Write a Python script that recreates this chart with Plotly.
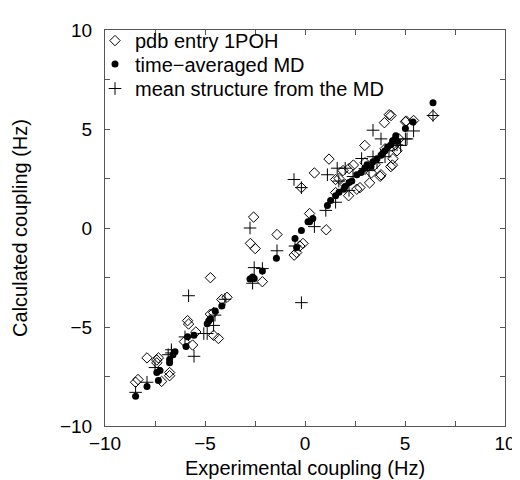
import plotly.graph_objects as go

# pdb entry 1POH (open diamonds)
pdb_x = [-8.47, -8.35, -7.9, -7.41, -7.33, -7.41, -6.77, -7.17, -6.77, -5.87, -5.82, -5.46, -5.62, -6.03,
         -4.57, -4.33, -4.73, -4.57, -4.16, -3.9, -4.73,
         -2.57, -2.73, -2.49, -1.4, -0.26, -0.1, -0.42, -0.54, -2.13, 0.23, 1.06, -0.18, 0.47, 1.2,
         1.53, 1.53, 2.01, 2.18, 2.59, 2.75, 3.23, 3.76, 3.8, 3.32, 2.42, 2.99, 3.97, 4.21, 4.3, 5.02,
         5.43, 5.07, 6.4, 4.29, 4.37, 4.6, 4.4, 3.5, 2.2, 3.0, 1.9, 1.7, 4.0, 4.5, 4.7]
pdb_y = [-7.79, -7.65, -6.56, -6.67, -6.56, -6.81, -7.3, -7.75, -7.46, -4.68, -4.85, -5.25, -5.91, -5.74,
         -5.42, -5.58, -4.35, -4.27, -3.61, -3.5, -2.51,
         0.55, -0.78, -1.04, -0.33, -0.91, -0.78, -1.24, -1.37, -2.71, 0.73, -0.09, 2.04, 2.78, 3.48,
         2.45, 1.79, 2.2, 1.63, 1.96, 2.04, 2.28, 2.61, 2.69, 2.78, 3.18, 4.17, 5.32, 5.72, 5.68, 5.37,
         5.43, 5.4, 5.68, 3.1, 3.18, 3.9, 3.5, 3.2, 3.0, 3.3, 2.9, 2.5, 4.0, 4.2, 4.5]

# time-averaged MD (filled circles)
md_x = [-8.47, -7.9, -7.33, -7.41, -7.25, -6.77, -6.77, -6.6, -6.5, -5.95, -5.87, -5.55, -4.89, -4.81,
        -4.73, -4.49, -4.16,
        -2.75, -2.62, -2.54, -2.13, -1.43, -0.5, -0.42, -0.18, 0.15, 0.39, 0.23,
        1.12, 1.28, 1.53, 1.94, 2.34, 2.59, 2.99, 3.4, 3.8, 4.13, 4.38, 4.54, 5.02, 5.4, 6.4,
        2.0, 2.8, 3.1, 3.6, 4.0, 4.3, 4.6, 2.2, 3.3, 3.9, 4.5, 1.7]
md_y = [-8.5, -8.0, -7.7, -7.3, -7.2, -6.81, -6.64, -6.4, -6.25, -5.99, -5.49, -5.42, -4.84, -4.68,
        -4.59, -4.19, -3.94,
        -2.58, -2.47, -2.55, -2.17, -1.53, -0.53, -0.99, -0.12, 0.32, 0.48, 0.32,
        1.14, 1.39, 1.63, 1.96, 2.37, 2.69, 3.02, 3.35, 3.68, 4.09, 4.41, 4.66, 5.02, 5.35, 6.33,
        2.1, 2.8, 3.2, 3.5, 3.9, 4.2, 4.4, 2.3, 3.1, 3.8, 4.5, 1.8]

# mean structure from the MD (plus signs)
mean_x = [-8.47, -7.9, -7.5, -6.84, -6.68, -6.68, -5.55, -5.82, -5.06, -4.57, -4.89, -4.0, -4.5, -6.0,
          -2.75, -2.54, -2.13, -2.62, -1.4, -0.5, -0.18, -0.55, -0.18, 0.47, 1.04, 1.53,
          1.61, 1.12, 1.69, 2.01, 2.83, 3.4, 3.8, 4.78, 5.1, 5.43, 3.4, 6.4, 5.02, 2.4, 3.0, 3.6,
          4.2, 4.6, 2.2, 3.2, 4.0]
mean_y = [-8.3, -7.79, -7.05, -6.4, -6.15, -6.31, -6.48, -3.42, -5.33, -4.92, -5.33, -3.6, -4.4, -5.5,
          0.0, -2.0, -2.05, -2.79, -1.15, -0.91, -3.77, 2.45, 2.04, 0.07, 0.89, 1.3,
          3.02, 2.69, 2.37, 3.02, 3.51, 3.6, 4.5, 4.17, 4.5, 4.9, 4.94, 5.68, 4.5, 2.6, 3.0, 3.3,
          3.9, 4.2, 1.9, 2.9, 3.6]

tick_vals = [-10, -7.5, -5, -2.5, 0, 2.5, 5, 7.5, 10]
tick_text = ["\u221210", "", "\u22125", "", "0", "", "5", "", "10"]

FONT = "Liberation Sans, Arial, Helvetica, sans-serif"

fig = go.Figure()
fig.add_trace(go.Scatter(x=pdb_x, y=pdb_y, mode="markers", name="pdb entry 1POH", legend="legend",
                         marker=dict(symbol="diamond-open", size=8, color="black",
                                     line=dict(width=1, color="black"))))
fig.add_trace(go.Scatter(x=md_x, y=md_y, mode="markers", name="time\u2212averaged MD", legend="legend2",
                         marker=dict(symbol="circle", size=7, color="black")))
fig.add_trace(go.Scatter(x=mean_x, y=mean_y, mode="markers", name="mean structure from the MD",
                         legend="legend3",
                         marker=dict(symbol="cross-thin-open", size=9, color="black",
                                     line=dict(width=1, color="black"))))

axis_common = dict(range=[-10, 10], tickmode="array", tickvals=tick_vals, ticktext=tick_text,
                   ticks="inside", ticklen=5, tickcolor="#555", showline=True, linecolor="#555",
                   linewidth=1, mirror="ticks", showgrid=False, zeroline=False,
                   tickfont=dict(family=FONT, size=19, color="black"))

leg = dict(x=-0.025, xanchor="left", yanchor="top", bgcolor="rgba(0,0,0,0)",
           font=dict(family=FONT, size=20, color="black"), itemwidth=30)

fig.update_layout(
    width=520, height=480,
    margin=dict(l=96, r=14, t=19, b=55),
    paper_bgcolor="white", plot_bgcolor="white",
    font=dict(family=FONT, size=20, color="black"),
    showlegend=True,
    legend=dict(leg, y=1.0225),
    legend2=dict(leg, y=0.9635),
    legend3=dict(leg, y=0.9015),
    xaxis=dict(axis_common, title=dict(text="Experimental coupling (Hz)",
                                       font=dict(family=FONT, size=20), standoff=8)),
    yaxis=dict(axis_common, ticklabelstandoff=8,
               title=dict(text="Calculated coupling (Hz)",
                          font=dict(family=FONT, size=20), standoff=26)),
)

fig.write_html("out.html")
